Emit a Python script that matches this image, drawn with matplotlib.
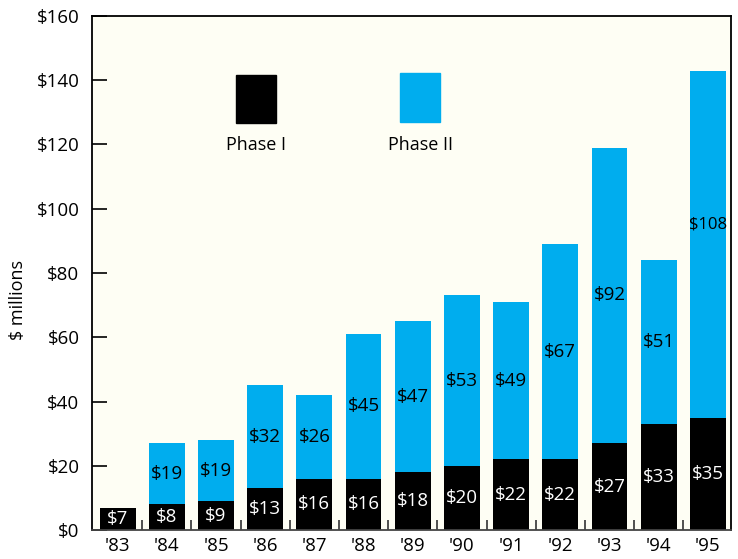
import matplotlib
matplotlib.use("Agg")
import matplotlib.pyplot as plt
from matplotlib.patches import Rectangle
import numpy as np

years = ["'83", "'84", "'85", "'86", "'87", "'88", "'89", "'90", "'91", "'92", "'93", "'94", "'95"]
phase1 = [7, 8, 9, 13, 16, 16, 18, 20, 22, 22, 27, 33, 35]
phase2 = [0, 19, 19, 32, 26, 45, 47, 53, 49, 67, 92, 51, 108]
yticks = [0, 20, 40, 60, 80, 100, 120, 140, 160]

plt.rcParams['font.family'] = ['Open Sans', 'DejaVu Sans']
BLUE = '#00ADEE'
BG = '#FEFEF4'
FS = 13.5

fig = plt.figure(figsize=(7.38, 5.59), dpi=100)
ax = fig.add_axes([92/738, 1-530/559, (731-92)/738, (530-16)/559])
ax.set_facecolor(BG)

x = np.arange(len(years))
w = 0.73
ax.bar(x, phase1, width=w, color='black', zorder=2)
ax.bar(x, phase2, width=w, bottom=phase1, color=BLUE, zorder=2)

for i in range(len(years)):
    ax.text(x[i], phase1[i]/2, f"${phase1[i]}", ha='center', va='center',
            color='white', fontsize=FS, zorder=3)
    if phase2[i] > 0:
        big = phase2[i] >= 100
        fs = 12 if big else FS
        ax.text(x[i], phase1[i] + phase2[i]/2 + (6 if big else 0), f"${phase2[i]}",
                ha='center', va='center', color='black', fontsize=fs, zorder=3)

ax.set_xlim(-0.52, 12.47)
ax.set_ylim(0, 160)
ax.set_yticks(yticks)
ax.set_yticklabels([f"${v}" for v in yticks], fontsize=FS)
ax.tick_params(axis='y', direction='in', length=11, width=1.2, pad=9, color='black')
ax.set_xticks(x)
ax.set_xticklabels(years, fontsize=FS)
ax.tick_params(axis='x', which='major', length=0, pad=5)
ax.set_xticks(np.arange(0.5, 12, 1), minor=True)
ax.tick_params(axis='x', which='minor', direction='in', length=7, width=1.2, color='#333333')
for s in ['left', 'top', 'right']:
    ax.spines[s].set_linewidth(1.3)
    ax.spines[s].set_color('black')
ax.spines['bottom'].set_linewidth(1.3)
ax.spines['bottom'].set_color('#444444')

fig.text(18/738, 1 - 300/559, "$ millions", rotation=90, ha='center', va='center', fontsize=13)

# legend
def px2ax(px, py):
    return ((px - 92) / (731 - 92), (530 - py) / (530 - 16))
for (x0, y0, x1, y1, col, lab) in [(236, 75, 276, 123, 'black', 'Phase I'),
                                   (400, 73, 440, 122, BLUE, 'Phase II')]:
    ax0, ay1 = px2ax(x0, y1)
    ax1_, ay0 = px2ax(x1, y0)
    ax.add_patch(Rectangle((ax0, ay1), ax1_ - ax0, ay0 - ay1, transform=ax.transAxes,
                           color=col, zorder=3))
    tx, ty = px2ax((x0 + x1) / 2, 145)
    ax.text(tx, ty, lab, transform=ax.transAxes, ha='center', va='center', fontsize=13)

fig.savefig("out.png", dpi=100, facecolor='white')
